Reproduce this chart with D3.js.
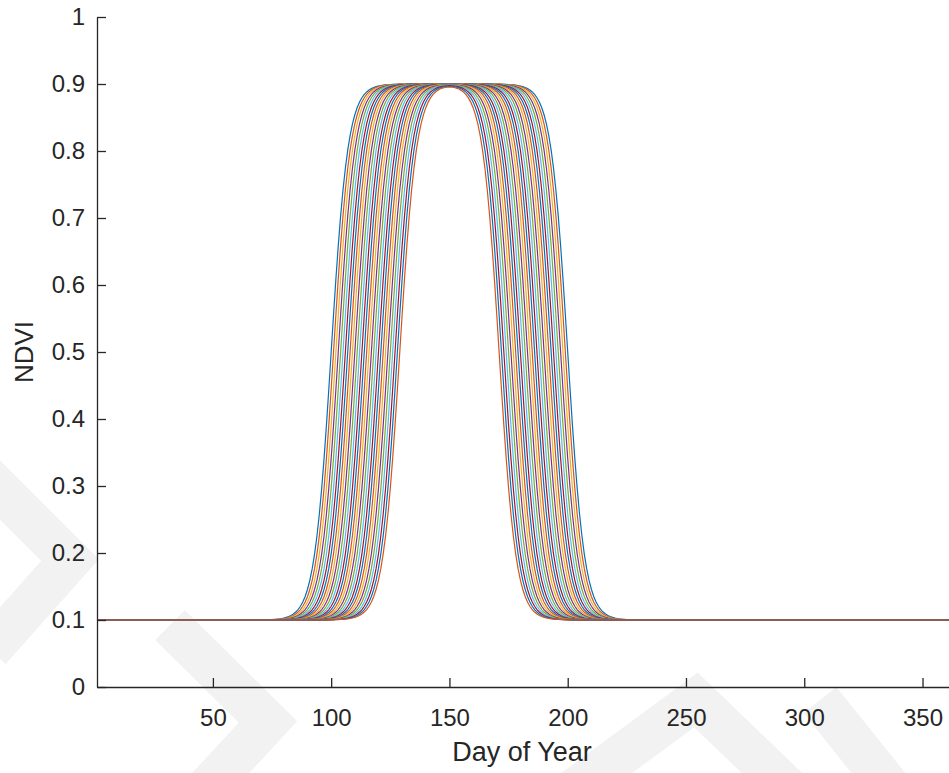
<!DOCTYPE html>
<html>
<head>
<meta charset="utf-8">
<script src="https://cdn.jsdelivr.net/npm/d3@7"></script>
<style>
  body { margin: 0; background: #fff; }
  svg { display: block; font-family: "Liberation Sans", Arial, Helvetica, sans-serif; }
</style>
</head>
<body>
<svg id="chart"></svg>
<script>
// Valeurs : jour de montée / descente (NDVI = 0.5) de chaque courbe
let riseDays = [100,101,102,103,104,105,106,107,108,109,110,111,112,113,114,
                115,116,117,118,119,120,121,122,123,124,125,126,127,128,129];
let fallDays = [200,199,198,197,196,195,194,193,192,191,190,189,188,187,186,
                185,184,183,182,181,180,179,178,177,176,175,174,173,172,171];
let baseNDVI = 0.1;
let ampNDVI = 0.8;
let pente = 0.28;

let xTicks = [50,100,150,200,250,300,350];
let yTicks = [0,0.1,0.2,0.3,0.4,0.5,0.6,0.7,0.8,0.9,1];
let yTickLabels = ["0","0.1","0.2","0.3","0.4","0.5","0.6","0.7","0.8","0.9","1"];

// ordre des couleurs matlab
let couleurs = ["#0072BD","#D95319","#EDB120","#7E2F8E","#77AC30","#4DBEEE","#A2142F"];

w = 949;
h = 773;

let svg = d3.select("#chart")
    .attr("width", w)
    .attr("height", h);

let x = d3.scaleLinear().domain([1,365]).range([97,958]);
let y = d3.scaleLinear().domain([0,1]).range([687,17]);

let jours = d3.range(1,366);

//Filigrane (très pâle)
let filigrane = svg.append("g")
    .style("fill","none")
    .style("stroke","#f2f2f2")
    .style("stroke-width",42)
    .style("stroke-linejoin","miter");
filigrane.append("polyline").attr("points","170,625 268,722 205,790");
filigrane.append("polyline").attr("points","560,800 696,700 800,800");
filigrane.append("polyline").attr("points","-20,470 70,560 -10,650");
filigrane.append("polyline").attr("points","820,700 900,800");

//Courbes double logistique
let ligne = d3.line()
    .x(d => x(d[0]))
    .y(d => y(d[1]));

let courbes = svg.append("g");
riseDays.forEach(function(r,i){
  let f = fallDays[i];
  let pts = jours.map(function(t){
    let v = baseNDVI + ampNDVI*(1/(1+Math.exp(-pente*(t-r))) - 1/(1+Math.exp(-pente*(t-f))));
    return [t,v];
  });
  courbes.append("path")
    .datum(pts)
    .attr("d", ligne)
    .style("fill","none")
    .style("stroke", couleurs[i % couleurs.length])
    .style("stroke-width", 1.2);
});

//Axe X
let axeX = svg.append("g")
    .attr("transform", `translate(0,${y(0)})`)
    .call(d3.axisBottom(x).tickValues(xTicks).tickSizeInner(-9).tickSizeOuter(0).tickPadding(22));
axeX.select(".domain").attr("stroke","#262626").attr("stroke-width",1.3);
axeX.selectAll(".tick line").attr("stroke","#262626").attr("stroke-width",1.3);
axeX.selectAll(".tick text")
    .attr("fill","#262626")
    .style("font-size","24px");

//Axe Y
let axeY = svg.append("g")
    .attr("transform", `translate(${x(1)},0)`)
    .call(d3.axisLeft(y).tickValues(yTicks).tickFormat((d,i) => yTickLabels[i]).tickSizeInner(-9).tickSizeOuter(0).tickPadding(12));
axeY.select(".domain").attr("stroke","#262626").attr("stroke-width",1.3);
axeY.selectAll(".tick line").attr("stroke","#262626").attr("stroke-width",1.3);
axeY.selectAll(".tick text")
    .attr("fill","#262626")
    .style("font-size","24px");

//Titres des axes
svg.append("text")
    .attr("x", 522)
    .attr("y", 761)
    .attr("text-anchor","middle")
    .style("font-size","27px")
    .style("fill","#262626")
    .text("Day of Year");

svg.append("text")
    .attr("transform", `translate(33,352) rotate(-90)`)
    .attr("text-anchor","middle")
    .style("font-size","26px")
    .style("fill","#262626")
    .text("NDVI");
</script>
</body>
</html>
